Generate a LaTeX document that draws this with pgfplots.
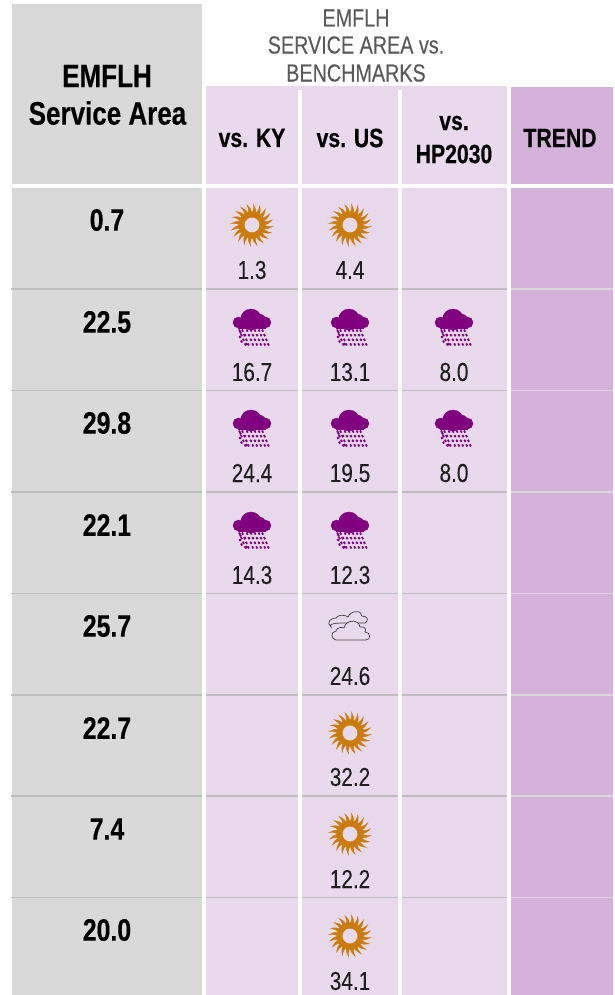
\documentclass[border=0pt]{standalone}
\usepackage{fontspec}
\usepackage{pgfplots}
\pgfplotsset{compat=1.18}
\setmainfont[FakeStretch=0.8,FakeBold=0.08,BoldFeatures={FakeBold=0.4}]{Liberation Sans}

\definecolor{greycell}{HTML}{D9D9D9}
\definecolor{lilac}{HTML}{E9D9EC}
\definecolor{trendcell}{HTML}{D5B2DA}
\definecolor{rowline}{HTML}{BFBFBF}
\definecolor{sunorange}{HTML}{CB7C08}
\definecolor{rainpurple}{HTML}{800080}
\definecolor{headgrey}{HTML}{595959}
\definecolor{cloudline}{HTML}{404040}

% sun: ring with bent spikes, units are pixels
\pgfdeclareplotmark{sunicon}{%
  \fill[sunorange,even odd rule] (0:13pt) arc (0:360:13pt) (0:7.8pt) arc (0:360:7.8pt);
  \foreach \a in {0,18,...,342} {
    \fill[sunorange] (\a:12pt) .. controls (\a+4:16pt) .. (\a+14:20.8pt)
      .. controls (\a+12:16pt) .. (\a+18:12pt) -- cycle;
  }
}
% storm cloud with rain dashes
\pgfdeclareplotmark{rainicon}{%
  \fill[rainpurple] (-13.5pt,5.5pt) circle (5.5pt) (13.5pt,5.5pt) circle (5.5pt)
    (7pt,7pt) circle (7pt) (-1pt,8.5pt) circle (10.5pt);
  \fill[rainpurple] (-13.5pt,0.3pt) rectangle (13.5pt,8pt);
  \foreach \c in {-13,-10,-5.5,-1.5,2.5,6.5,10} {
    \foreach \k in {0,1,2,3} {
      \draw[rainpurple,line width=1.8pt]
        (\c pt+\k*1.9pt,-1.5pt-\k*4.6pt) -- ++(1.2pt,-2.2pt);
    }
  }
  \draw[rainpurple,line width=1.8pt]
    (-12pt,-3.5pt) -- ++(1pt,-2pt) (-12.5pt,-8pt) -- ++(1pt,-2pt) (-11pt,-12.5pt) -- ++(1pt,-2pt)
    (-7.5pt,-6pt) -- ++(1pt,-2pt) (-6pt,-15pt) -- ++(1pt,-2pt);
}
% two outlined clouds
\pgfdeclareplotmark{cloudicon}{%
  \draw[cloudline,line width=0.7pt,fill=lilac]
    (-7pt,3pt) .. controls (-15pt,3pt) and (-22pt,2pt) .. (-19pt,-1pt)
    .. controls (-24pt,3pt) and (-20pt,8pt) .. (-14pt,8pt)
    .. controls (-12pt,12pt) and (-4pt,11pt) .. (-2pt,9pt)
    .. controls (1pt,16pt) and (12pt,16pt) .. (12pt,10pt)
    .. controls (18pt,10pt) and (19pt,5pt) .. (15pt,3pt) -- cycle;
  \draw[cloudline,line width=0.7pt,fill=lilac]
    (-14pt,-14pt) .. controls (-19pt,-13pt) and (-20pt,-6pt) .. (-14pt,-5pt)
    .. controls (-13pt,-1pt) and (-8pt,-1pt) .. (-6pt,-2pt)
    .. controls (-4pt,7pt) and (9pt,7pt) .. (10pt,-1pt)
    .. controls (14pt,0pt) and (17pt,-3pt) .. (15pt,-6pt)
    .. controls (21pt,-6pt) and (21pt,-14pt) .. (16pt,-14pt) -- cycle;
}

\begin{document}
\begin{tikzpicture}
\begin{axis}[
    scale only axis, width=614pt, height=995pt,
    xmin=0, xmax=614, ymin=0, ymax=995, y dir=reverse,
    hide axis, clip=false,
    point meta=explicit symbolic,
    lab/.style={only marks, mark=none, nodes near coords,
      nodes near coords align={center},
      nodes near coords style={anchor=center, inner sep=0pt, font=#1}},
  ]
  % page
  \addplot[fill=white, draw=none] coordinates {(0,0) (614,0) (614,995) (0,995)} --cycle;

  % cells
  \addplot[fill=greycell, draw=none] coordinates {(12,4) (202,4) (202,184) (12,184)} --cycle;
  \addplot[fill=greycell, draw=none] coordinates {(12,188) (202,188) (202,995) (12,995)} --cycle;
  \addplot[fill=lilac, draw=none] coordinates {(206,86) (507,86) (507,184) (206,184)} --cycle;
  \addplot[fill=lilac, draw=none] coordinates {(206,188) (507,188) (507,995) (206,995)} --cycle;
  \addplot[fill=trendcell, draw=none] coordinates {(510.5,87) (613,87) (613,184) (510.5,184)} --cycle;
  \addplot[fill=trendcell, draw=none] coordinates {(510.5,188) (613,188) (613,995) (510.5,995)} --cycle;

  % row rules
  \foreach \r in {289,390.5,492,593.5,695,796,897.5} {
    \edef\tmp{\noexpand\addplot[rowline, line width=1.8pt] coordinates {(11,\r) (507,\r)};
      \noexpand\addplot[greycell, line width=1.8pt] coordinates {(510.5,\r) (613,\r)};}
    \tmp
  }

  % white gaps between columns
  \addplot[fill=white, draw=none] coordinates {(202,86) (206,86) (206,995) (202,995)} --cycle;
  \addplot[fill=white, draw=none] coordinates {(298,90) (302,90) (302,995) (298,995)} --cycle;
  \addplot[fill=white, draw=none] coordinates {(398,90) (401.5,90) (401.5,995) (398,995)} --cycle;
  \addplot[fill=white, draw=none] coordinates {(507,86) (510.5,86) (510.5,995) (507,995)} --cycle;

  % header text
  \addplot[lab={\fontsize{32.5}{34}\selectfont\bfseries}, black] coordinates {
    (107,76) [EMFLH]
    (107.5,113) [Service Area]
  };
  \addplot[lab={\fontsize{24.7}{26}\selectfont\color{headgrey}}] coordinates {
    (356,18) [EMFLH]
    (356,45) [SERVICE AREA vs.]
    (356,73) [BENCHMARKS]
  };
  \addplot[lab={\fontsize{26.5}{28}\selectfont\bfseries}] coordinates {
    (252,138) [vs. KY]
    (350,138) [vs. US]
    (454,123) [vs.]
    (454,154) [HP2030]
    (560,138) [TREND]
  };

  % EMFLH service area values
  \addplot[lab={\fontsize{31}{32}\selectfont\bfseries}] coordinates {
    (107,220) [0.7]
    (107,322) [22.5]
    (107,423) [29.8]
    (107,525) [22.1]
    (107,626) [25.7]
    (107,728) [22.7]
    (107,829) [7.4]
    (107,930) [20.0]
  };

  % benchmark values
  \addplot[lab={\fontsize{26}{27}\selectfont\color{black!88}}] coordinates {
    (252,270) [1.3] (350,270) [4.4]
    (252,372) [16.7] (350,372) [13.1] (454,372) [8.0]
    (252,473) [24.4] (350,473) [19.5] (454,473) [8.0]
    (252,575) [14.3] (350,575) [12.3]
    (350,676) [24.6]
    (350,777) [32.2]
    (350,879) [12.2]
    (350,981) [34.1]
  };

  % icons
  \addplot[only marks, mark=sunicon] coordinates {
    (252,225) (350,225) (350,733) (350,834) (350,936)
  };
  \addplot[only marks, mark=rainicon] coordinates {
    (252,328) (350,328) (454,328)
    (252,429) (350,429) (454,429)
    (252,531) (350,531)
  };
  \addplot[only marks, mark=cloudicon] coordinates {(350,626)};
\end{axis}
\end{tikzpicture}
\end{document}
